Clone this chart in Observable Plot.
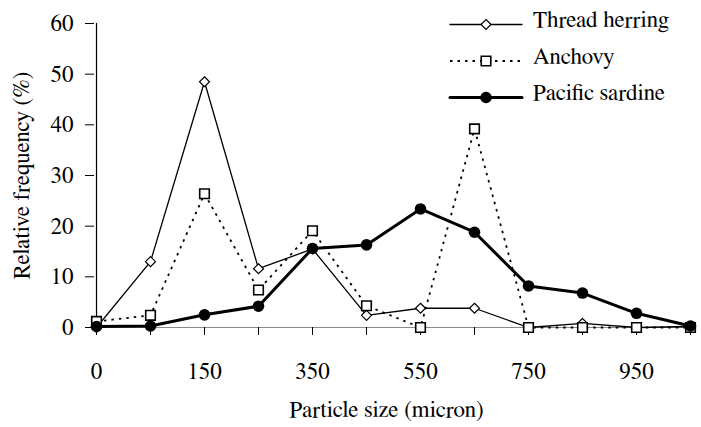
<!DOCTYPE html>
<html><head><meta charset="utf-8">
<script src="https://cdn.jsdelivr.net/npm/d3@7"></script>
<script src="https://cdn.jsdelivr.net/npm/@observablehq/plot@0.6"></script>
<style>
body{margin:0;background:#fff;font-size:20px;}
</style></head><body><div id="chart" style="position:relative;width:701px;height:427px"></div>
<script>
// Categories (particle size classes, micron)
const sizes = ["0","75","150","250","350","450","550","650","750","850","950","1050"];
const xTickLabels = ["0","150","350","550","750","950"];
const yTicks = [0,10,20,30,40,50,60];
// Relative frequency (%)
const threadHerring = [0,13.0,48.5,11.6,15.5,2.4,3.8,3.8,0,0.8,0,0.2];
const anchovy = [1.2,2.4,26.4,7.4,19.1,4.3,0,39.2,0,0,0,0];
const pacificSardine = [0.2,0.3,2.5,4.2,15.6,16.3,23.4,18.8,8.2,6.8,2.8,0.3];
const seriesNames = ["Thread herring","Anchovy","Pacific sardine"];
const xTitle = "Particle size (micron)";
const yTitle = "Relative frequency (%)";

const FONT = "FreeSerif, 'Liberation Serif', Tinos, 'Times New Roman', serif";
const seriesValues = [threadHerring, anchovy, pacificSardine];
const styles = [
  {strokeWidth:1.3, dash:null, symbol:"diamond2", r:4.5, fill:"white", dotStroke:"black", dotStrokeWidth:1.2},
  {strokeWidth:1.8, dash:"2.5,5", symbol:"square", r:5.4, fill:"white", dotStroke:"black", dotStrokeWidth:1.6},
  {strokeWidth:3, dash:null, symbol:"circle", r:5.8, fill:"black", dotStroke:"black", dotStrokeWidth:0}
];
const tables = seriesNames.map((name, k) => sizes.map((s, i) => ({size: s, value: seriesValues[k][i], series: name})));

const marks = [
  Plot.ruleY([0], {stroke:"#8a8a8a", strokeWidth:1.2}),
  Plot.ruleX([sizes[0]], {stroke:"black", strokeWidth:1.2}),
  Plot.axisX({tickSize:8, tickPadding:27, fontSize:23, label:null,
    tickFormat: d => xTickLabels.includes(d) ? d : ""}),
  Plot.axisY({ticks:yTicks, tickSize:9, tickPadding:12, fontSize:23, label:null}),
  Plot.text([yTitle], {frameAnchor:"left", rotate:-90, dx:-73, fontSize:23, textAnchor:"middle"}),
  Plot.text([xTitle], {frameAnchor:"bottom", dx:-7, dy:89.5, fontSize:23, textAnchor:"middle"})
];
tables.forEach((t, k) => {
  const st = styles[k];
  marks.push(Plot.line(t, {x:"size", y:"value", stroke:"black", strokeWidth:st.strokeWidth,
    strokeDasharray: st.dash || undefined, strokeLinecap: st.dash ? "butt" : "round", strokeLinejoin:"miter"}));
  marks.push(Plot.dot(t, {x:"size", y:"value", symbol:st.symbol, r:st.r, fill:st.fill,
    stroke:st.dotStroke, strokeWidth:st.dotStrokeWidth}));
});

const chart = Plot.plot({
  width:701, height:427,
  marginLeft:94, marginRight:9, marginTop:23, marginBottom:100,
  style:{fontFamily:FONT, background:"white", color:"black"},
  x:{type:"point", domain:sizes, padding:0},
  y:{domain:[0,60]},
  marks
});
const host = document.getElementById("chart");
host.appendChild(chart);

// Legend overlay
const lg = d3.select(host).append("svg").attr("width",701).attr("height",427)
  .style("position","absolute").style("left","0px").style("top","0px");
const rowBase = [27, 63.5, 100];
const symMap = {diamond2:d3.symbolDiamond2, square:d3.symbolSquare, circle:d3.symbolCircle};
seriesNames.forEach((name, k) => {
  const st = styles[k];
  const ly = rowBase[k] - 2.5;
  lg.append("line").attr("x1",450).attr("x2",522).attr("y1",ly).attr("y2",ly)
    .attr("stroke","black").attr("stroke-width",st.strokeWidth)
    .attr("stroke-dasharray", st.dash).attr("stroke-linecap", st.dash ? "butt" : "round");
  lg.append("path").attr("d", d3.symbol(symMap[st.symbol], Math.PI*st.r*st.r)())
    .attr("transform", `translate(486,${ly})`)
    .attr("fill", st.fill).attr("stroke", st.dotStroke).attr("stroke-width", st.dotStrokeWidth);
  lg.append("text").attr("x",533).attr("y",rowBase[k]).attr("font-size",23).attr("fill","black").text(name);
});
// Apply the serif face directly on every text element
d3.select(host).selectAll("svg, svg g, svg text").attr("font-family", FONT).style("font-family", FONT);
</script></body></html>
